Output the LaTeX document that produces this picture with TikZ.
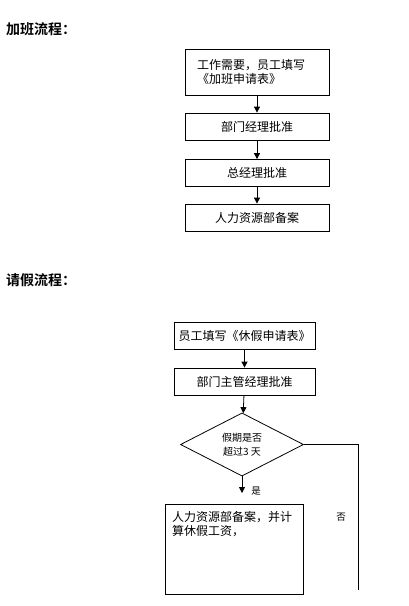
\documentclass[tikz,border=0pt]{standalone}
\usepackage{fontspec}
\newfontfamily\cjk{Noto Sans CJK SC}[BoldFont={Noto Sans CJK SC Bold}]
\usetikzlibrary{shapes.geometric,arrows.meta}
\begin{document}
\begin{tikzpicture}[x=1pt,y=-1pt,
  font=\cjk\fontsize{12}{14}\selectfont,
  stepbox/.style={draw=black,line width=0.8pt,minimum width=144pt,minimum height=27pt,inner sep=0pt,anchor=center},
  flow/.style={draw=black,line width=0.8pt,-{Triangle[length=6pt,width=6pt]}},
  title/.style={font=\cjk\bfseries\fontsize{14}{16}\selectfont,anchor=west,inner sep=0pt},
  small/.style={font=\cjk\fontsize{9.5}{12}\selectfont,inner sep=0pt}]
\useasboundingbox[fill=white] (0,0) rectangle (409,606);
% overtime flow
\node[title] (t1) at (6,29) {加班流程：};
\node[stepbox,text width=120pt,inner xsep=12pt,align=left,minimum height=46pt] (a1) at (257,72) {工作需要，员工填写\\《加班申请表》};
\node[stepbox] (a2) at (257,126.5) {部门经理批准};
\node[stepbox] (a3) at (257,173) {总经理批准};
\node[stepbox] (a4) at (257,217.5) {人力资源部备案};
\draw[flow] (a1) -- (a2);
\draw[flow] (a2) -- (a3);
\draw[flow] (a3) -- (a4);
% leave flow
\node[title] (t2) at (6,280) {请假流程：};
\node[stepbox,minimum width=141pt] (b1) at (244.5,335.5) {员工填写《休假申请表》};
\node[stepbox,minimum width=141pt] (b2) at (244.5,381.5) {部门主管经理批准};
\node[diamond,draw=black,line width=0.8pt,minimum width=123pt,minimum height=63pt,inner sep=0pt,align=center,font=\cjk\fontsize{10}{14}\selectfont] (d) at (242,444.5) {假期是否\\超过3 天};
\node[draw=black,line width=0.8pt,minimum width=138pt,minimum height=90pt,inner sep=0pt] (b3) at (234,549) {\parbox[t][76pt][t]{124pt}{人力资源部备案，并计\\算休假工资，}};
\coordinate (yesend) at (242,493);
\coordinate (nocorner) at (358,444.5);
\coordinate (noend) at (358,590);
\draw[flow] (b1) -- (b2);
\draw[flow] (b2) -- (d);
\draw[flow] (d.south) -- (yesend);
\draw[line width=0.8pt] (d.east) -- (nocorner) -- (noend);
\node[small] (yes) at (256,491) {是};
\node[small] (no) at (341,517) {否};
\end{tikzpicture}
\end{document}
